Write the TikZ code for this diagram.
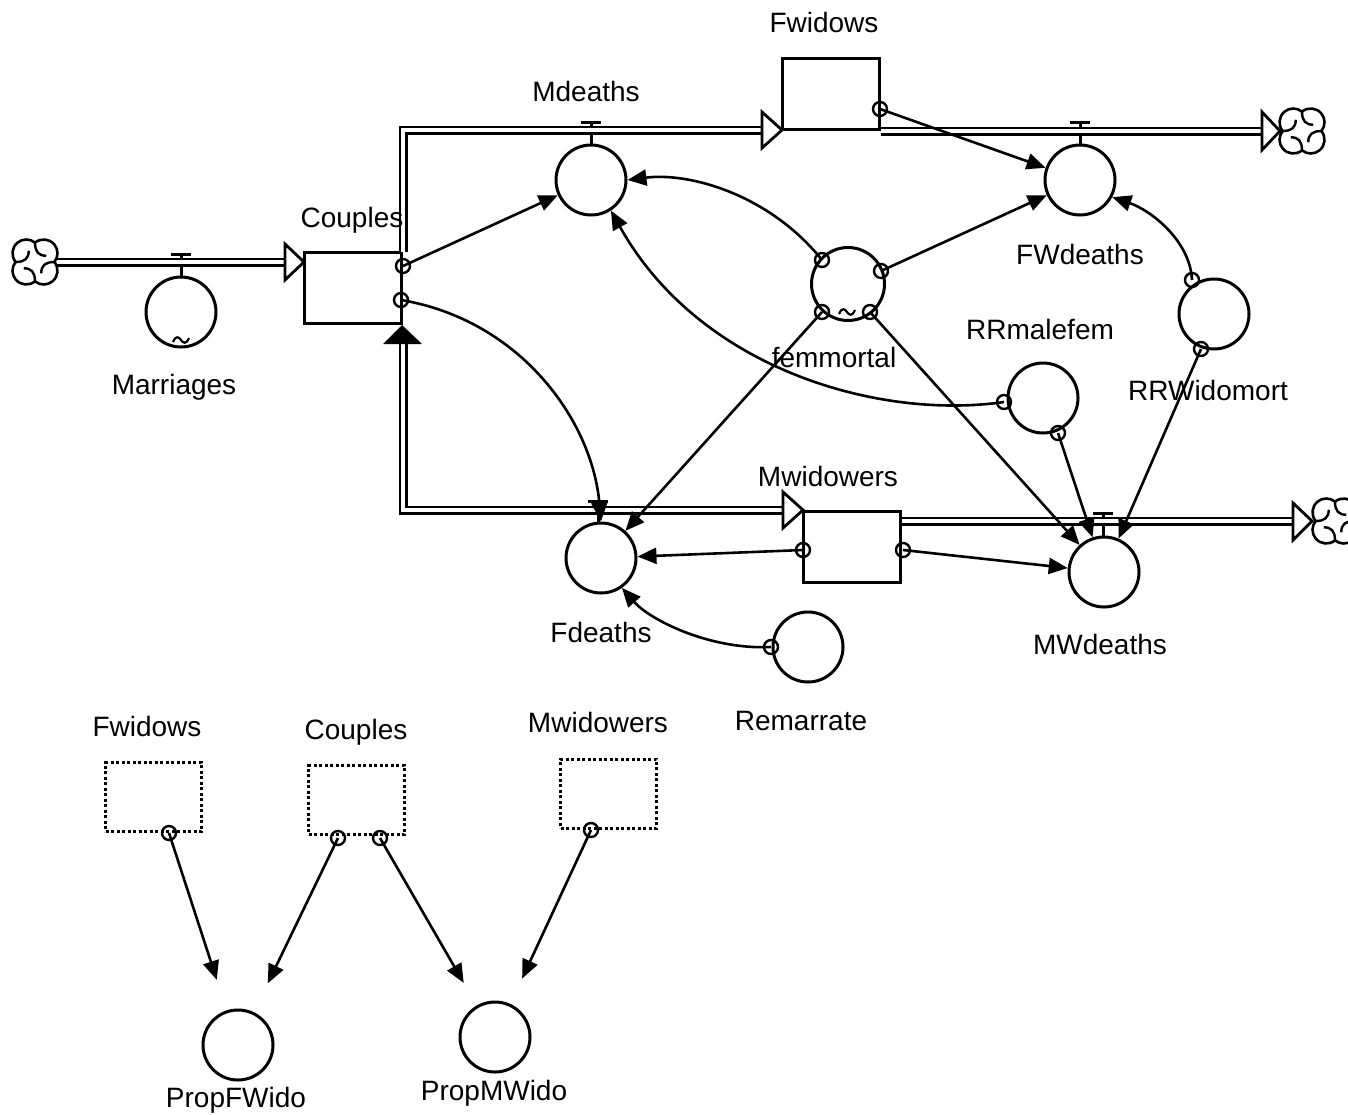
\documentclass[tikz,border=0pt]{standalone}
\usepackage{fontspec}
\setmainfont{Liberation Sans}
\usetikzlibrary{arrows.meta}
\begin{document}
\begin{tikzpicture}[x=1pt,y=-1pt,
  aux/.style={circle, draw, line width=3pt, minimum size=70pt, inner sep=0pt},
  stock/.style={rectangle, draw, line width=3pt, fill=white, minimum width=97pt, minimum height=71pt, inner sep=0pt},
  ghost/.style={rectangle, draw, line width=3pt, dash pattern=on 3pt off 2.5pt, minimum width=96pt, minimum height=69pt, inner sep=0pt},
  lbl/.style={font=\fontsize{28}{32}\selectfont, inner sep=0pt, text height=20pt, text depth=0pt},
  pipe/.style={draw, line width=2.8pt, double=white, double distance=3.4pt, line join=miter},
  conn/.style={line width=2.6pt, -{Triangle[length=19pt,width=16pt]}},
  srcring/.style={line width=2.4pt},
  flowhead/.style={draw, line width=2.8pt, fill=white, line join=miter},
  valvet/.style={line width=3pt},
  cloud/.pic={
    \draw[line width=2.6pt, fill=white] (0,-15.49) arc[start angle=230.5,end angle=399.5,radius=11]
      arc[start angle=320.5,end angle=489.5,radius=11]
      arc[start angle=50.5,end angle=219.5,radius=11]
      arc[start angle=140.5,end angle=309.5,radius=11] -- cycle;
    \foreach \a in {0,90,180,270}
      \draw[line width=2.4pt, rotate=\a] (0,-15.49) .. controls (0,-8) and (3,-5) .. (9,-5);
  },
  tilde/.pic={\draw[line width=2.2pt] (-8,2) .. controls (-5,-5) and (-2,-3) .. (0,0) .. controls (2,3) and (5,5) .. (8,-2);}
]
\useasboundingbox (0,0) rectangle (1348,1114);

% ---------- valve stems (under pipes)
\draw[valvet] (171,254) -- (191,254) (181,254) -- (181,276);
\draw[valvet] (581,122) -- (601,122) (591,122) -- (591,144);
\draw[valvet] (1070,122) -- (1090,122) (1080,122) -- (1080,144);
\draw[valvet] (588,501) -- (608,501) (598,501) -- (598,523);
\draw[valvet] (1093,513) -- (1113,513) (1103,513) -- (1103,537);

% ---------- clouds
\coordinate (cloudL) at (35,262);
\coordinate (cloudR1) at (1302,131);
\coordinate (cloudR2) at (1335,521);
\pic[scale=1.25] at (cloudL) {cloud};
\pic[scale=1.25] at (cloudR1) {cloud};
\pic[scale=1.25] at (cloudR2) {cloud};

% ---------- stocks
\node[stock] (Couples) at (353,288) {};
\node[stock] (Fwidows) at (831,94) {};
\node[stock] (Mwidowers) at (852,547) {};

% ---------- pipes
\coordinate (pA) at (57,262);
\coordinate (pB) at (285,262);
\draw[pipe] (pA) -- (pB);
\draw[flowhead] (304,262) -- (285,244) -- (285,280) -- cycle;

\coordinate (pC) at (403,252);
\coordinate (pD) at (762,130);
\draw[pipe] (pC) -- (403,130) -- (pD);
\draw[flowhead] (782,130) -- (762,112) -- (762,148) -- cycle;

\coordinate (pE) at (881,131);
\coordinate (pF) at (1262,131);
\draw[pipe] (pE) -- (pF);
\draw[flowhead] (1280,131) -- (1262,112) -- (1262,150) -- cycle;

\coordinate (pG) at (403,344);
\coordinate (pH) at (783,510);
\draw[pipe] (pG) -- (403,510) -- (pH);
\draw[flowhead] (803,510) -- (783,492) -- (783,528) -- cycle;
\fill (402,325) -- (383,344) -- (422,344) -- cycle;

\coordinate (pI) at (902,521);
\coordinate (pJ) at (1293,521);
\draw[pipe] (pI) -- (pJ);
\draw[flowhead] (1312,521) -- (1293,503) -- (1293,540) -- cycle;

% ---------- converters
\node[aux] (Marriages) at (181,312) {};
\pic at (181,340) {tilde};
\node[aux] (Mdeaths) at (591,180) {};
\node[aux] (FWdeaths) at (1080,180) {};
\node[aux, minimum size=73pt] (femmortal) at (848,284) {};
\pic at (847,312) {tilde};
\node[aux] (RRmalefem) at (1043,398) {};
\node[aux] (RRWidomort) at (1214,314) {};
\node[aux] (Fdeaths) at (601,558) {};
\node[aux] (MWdeaths) at (1104,572) {};
\node[aux] (Remarrate) at (808,647) {};
\node[aux] (PropFWido) at (238,1045) {};
\node[aux] (PropMWido) at (495,1037) {};

% ---------- ghosts
\node[ghost] (gFwidows) at (153.5,797) {};
\node[ghost] (gCouples) at (356.5,800) {};
\node[ghost] (gMwidowers) at (608.5,793.5) {};

% ---------- labels
\node[lbl] (tFwidows) at (824,22) {Fwidows};
\node[lbl] (tMdeaths) at (586,91) {Mdeaths};
\node[lbl] (tCouples) at (352,217) {Couples};
\node[lbl] (tMarriages) at (174,384) {Marriages};
\node[lbl] (tFWdeaths) at (1080,254) {FWdeaths};
\node[lbl] (tfemmortal) at (834,357) {femmortal};
\node[lbl] (tRRmalefem) at (1040,329) {RRmalefem};
\node[lbl] (tRRWidomort) at (1208,390) {RRWidomort};
\node[lbl] (tMwidowers) at (828,476) {Mwidowers};
\node[lbl] (tFdeaths) at (601,632) {Fdeaths};
\node[lbl] (tMWdeaths) at (1100,644) {MWdeaths};
\node[lbl] (tRemarrate) at (801,720) {Remarrate};
\node[lbl] (tgFwidows) at (147,726) {Fwidows};
\node[lbl] (tgCouples) at (356,729) {Couples};
\node[lbl] (tgMwidowers) at (598,722) {Mwidowers};
\node[lbl] (tPropFWido) at (236,1097) {PropFWido};
\node[lbl] (tPropMWido) at (494,1090) {PropMWido};

% ---------- connector origins
\coordinate (cp1) at (403,266);
\coordinate (cp2) at (401,300);
\coordinate (fm1) at (822,260);
\coordinate (fm2) at (881,271);
\coordinate (fm3) at (822,312);
\coordinate (fm4) at (870,312);
\coordinate (fw1) at (880,109);
\coordinate (mw1) at (803,550);
\coordinate (mw2) at (903,550);
\coordinate (rm1) at (1004,402);
\coordinate (rm2) at (1058,433);
\coordinate (rw1) at (1192,280);
\coordinate (rw2) at (1201,349);
\coordinate (re1) at (771,647);
\coordinate (g1) at (169,833);
\coordinate (g2) at (338,838);
\coordinate (g3) at (380,838);
\coordinate (g4) at (591,830);

% ---------- connectors
\draw[conn] (cp1) -- (Mdeaths);
\draw[conn] (cp2) .. controls (520,320) and (592,420) .. (Fdeaths.north);
\draw[conn] (fm1) .. controls (770,195) and (690,172) .. (Mdeaths.east);
\draw[conn] (fm2) -- (FWdeaths);
\draw[conn] (fm3) -- (Fdeaths);
\draw[conn] (fm4) -- (MWdeaths);
\draw[conn] (fw1) -- (FWdeaths);
\draw[conn] (rm1) .. controls (880,420) and (700,370) .. (Mdeaths.-57);
\draw[conn] (rm2) -- (MWdeaths);
\draw[conn] (rw1) .. controls (1190,240) and (1150,210) .. (FWdeaths.-28);
\draw[conn] (rw2) -- (MWdeaths);
\draw[conn] (mw1) -- (Fdeaths);
\draw[conn] (mw2) -- (MWdeaths);
\draw[conn] (re1) .. controls (710,650) and (650,620) .. (Fdeaths.-55);
\draw[conn, shorten >=32pt] (g1) -- (PropFWido);
\draw[conn, shorten >=32pt] (g2) -- (PropFWido);
\draw[conn, shorten >=26pt] (g3) -- (PropMWido);
\draw[conn, shorten >=28pt] (g4) -- (PropMWido);

% ---------- origin rings
\foreach \c in {cp1,cp2,fm1,fm2,fm3,fm4,fw1,mw1,mw2,rm1,rm2,rw1,rw2,re1,g1,g2,g3,g4}
  \draw[srcring] (\c) circle (7);
\end{tikzpicture}
\end{document}
